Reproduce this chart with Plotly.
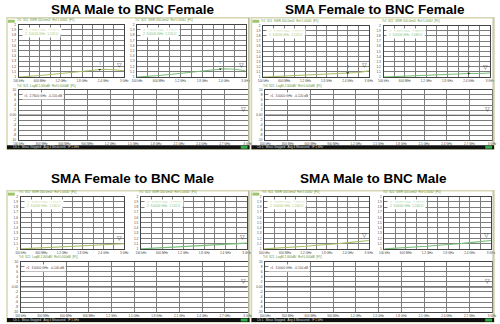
import plotly.graph_objects as go

W, H = 500, 324

# Sweep points (GHz), 100 kHz to 3 GHz
freq_ghz = [0.0001, 0.3, 0.6, 0.9, 1.2, 1.5, 1.8, 2.1, 2.4, 2.7, 3.0]

titles = ["SMA Male to BNC Female", "SMA Female to BNC Female",
          "SMA Female to BNC Male", "SMA Male to BNC Male"]

# Port-1 SWR (S11)
s11_mf = [1.00, 1.01, 1.03, 1.05, 1.07, 1.09, 1.11, 1.13, 1.15, 1.14, 1.12]
s11_ff = [1.00, 1.01, 1.02, 1.03, 1.04, 1.05, 1.06, 1.07, 1.08, 1.09, 1.12]
s11_fm = [1.00, 1.01, 1.02, 1.03, 1.04, 1.05, 1.06, 1.07, 1.08, 1.09, 1.10]
s11_mm = [1.00, 1.01, 1.02, 1.04, 1.05, 1.07, 1.08, 1.10, 1.12, 1.14, 1.16]

# Port-2 SWR (S22)
s22_mf = [1.00, 1.01, 1.03, 1.05, 1.07, 1.10, 1.12, 1.14, 1.16, 1.15, 1.12]
s22_ff = [1.00, 1.01, 1.02, 1.03, 1.04, 1.05, 1.05, 1.06, 1.07, 1.07, 1.08]
s22_fm = [1.00, 1.01, 1.02, 1.03, 1.04, 1.05, 1.06, 1.07, 1.08, 1.10, 1.11]
s22_mm = [1.00, 1.01, 1.02, 1.04, 1.05, 1.07, 1.08, 1.10, 1.12, 1.14, 1.16]

# Insertion loss (S21, dB)
s21_mf = [0.00, -0.02, -0.03, -0.05, -0.06, -0.08, -0.09, -0.10, -0.12, -0.13, -0.15]
s21_ff = [0.00, -0.01, -0.03, -0.04, -0.05, -0.06, -0.08, -0.09, -0.10, -0.11, -0.12]
s21_fm = [0.00, -0.02, -0.03, -0.04, -0.06, -0.07, -0.08, -0.10, -0.11, -0.12, -0.14]
s21_mm = [0.00, -0.02, -0.03, -0.05, -0.06, -0.08, -0.09, -0.11, -0.12, -0.14, -0.15]

# Marker 1 frequency (GHz) per adapter, None when not shown
mk1_freq = [2.3, 2.4, None, None]
# Marker frequency on the S21 trace
s21_mk_freq = [2.76, 3.0, 3.0, 3.0]

x_ticks = [0.0001, 0.3, 0.6, 0.9, 1.2, 1.5, 1.8, 2.1, 2.4, 2.7, 3.0]
x_ticktext = ["100 kHz", "300 MHz", "600 MHz", "900 MHz", "1.2 GHz",
              "1.5 GHz", "1.8 GHz", "2.1 GHz", "2.4 GHz", "2.7 GHz", "3 GHz"]
x_ticktext_small = ["100 kHz", "", "600 MHz", "", "1.2 GHz", "",
                    "1.8 GHz", "", "2.4 GHz", "", "3 GHz"]
swr_ticks = [1.0, 1.1, 1.2, 1.3, 1.4, 1.5, 1.6, 1.7, 1.8, 1.9, 2.0]
swr_ticktext = ["1", "1.1", "1.2", "1.3", "1.4", "1.5", "1.6", "1.7", "1.8", "1.9", "2"]
db_ticks = [-10, -8, -6, -4, -2, 0, 2, 4, 6, 8, 10]
db_ticktext = ["-10", "-8", "-6", "-4", "-2", "0.00", "2", "4", "6", "8", "10"]

s11_all = [s11_mf, s11_ff, s11_fm, s11_mm]
s22_all = [s22_mf, s22_ff, s22_fm, s22_mm]
s21_all = [s21_mf, s21_ff, s21_fm, s21_mm]

# Panel geometry in pixels: frame, title centre, chart boxes (x0, y0, x1, y1)
panels = [
    dict(frame=(1, 16, 249, 149), title=(130, 8),
         tl=(13, 23, 121, 76), tr=(134, 23, 245, 76), bot=(13, 89, 247, 140)),
    dict(frame=(251, 16, 499, 149), title=(377, 8),
         tl=(263, 24, 371, 76), tr=(386, 24, 495, 76), bot=(265, 89, 497, 140)),
    dict(frame=(1, 191, 249, 324), title=(130, 179),
         tl=(15, 197, 121, 250), tr=(138, 197, 246, 250), bot=(15, 263, 247, 314)),
    dict(frame=(251, 191, 499, 324), title=(376, 179),
         tl=(264, 197, 371, 250), tr=(387, 197, 496, 250), bot=(265, 263, 497, 314)),
]

S11_COLOR = "#a9bf6a"
S22_COLOR = "#78bd78"
S21_COLOR = "#6a6a6a"
GRID = "#7d7d7d"


def px(x):
    return x / W


def py(y):
    return 1 - y / H


fig = go.Figure()
layout = dict(width=W, height=H, margin=dict(l=0, r=0, t=0, b=0),
              paper_bgcolor="white", plot_bgcolor="white", showlegend=False)
shapes, annotations = [], []
axis_n = [0]


def add_chart(box, xs, ys, color, kind, small, mk_freq, header, readout):
    axis_n[0] += 1
    n = axis_n[0]
    xa = "x" if n == 1 else f"x{n}"
    ya = "y" if n == 1 else f"y{n}"
    xkey = "xaxis" if n == 1 else f"xaxis{n}"
    ykey = "yaxis" if n == 1 else f"yaxis{n}"
    x0, y0, x1, y1 = box
    layout[xkey] = dict(domain=[px(x0), px(x1)], anchor=ya, range=[0, 3.0],
                        tickvals=x_ticks,
                        ticktext=x_ticktext_small if small else x_ticktext,
                        showgrid=True, gridcolor=GRID, gridwidth=1,
                        zeroline=False, showline=True, mirror=True,
                        linecolor="#444", linewidth=1, ticks="",
                        tickfont=dict(size=3, color="#444", family="Liberation Sans"),
                        ticklabelstandoff=0, fixedrange=True)
    if kind == "swr":
        yr, tv, tt = [1.0, 2.0], swr_ticks, swr_ticktext
    else:
        yr, tv, tt = [-10, 10], db_ticks, db_ticktext
    layout[ykey] = dict(domain=[py(y1), py(y0)], anchor=xa, range=yr,
                        tickvals=tv, ticktext=tt,
                        showgrid=True, gridcolor=GRID, gridwidth=1,
                        zeroline=False, showline=True, mirror=True,
                        linecolor="#444", linewidth=1, ticks="",
                        tickfont=dict(size=3.2, color="#444", family="Liberation Sans"),
                        ticklabelstandoff=1, fixedrange=True)
    fig.add_trace(go.Scatter(x=xs, y=ys, mode="lines", xaxis=xa, yaxis=ya,
                             line=dict(color=color, width=1.1), hoverinfo="skip"))
    # stop-frequency marker glyph
    annotations.append(dict(x=xs[-1], y=ys[-1], xref=xa, yref=ya, text="▽",
                            showarrow=False, yanchor="bottom", xanchor="right",
                            font=dict(size=6, color="#333")))
    if mk_freq is not None:
        # interpolate trace value at marker frequency
        mv = ys[-1]
        for i in range(len(xs) - 1):
            if xs[i] <= mk_freq <= xs[i + 1]:
                t = (mk_freq - xs[i]) / (xs[i + 1] - xs[i])
                mv = ys[i] + t * (ys[i + 1] - ys[i])
                break
        fig.add_trace(go.Scatter(x=[mk_freq], y=[mv], mode="markers", xaxis=xa,
                                 yaxis=ya, marker=dict(size=2.5, color="#222",
                                                       symbol="triangle-down"),
                                 hoverinfo="skip"))
        annotations.append(dict(x=mk_freq, y=mv, xref=xa, yref=ya, text="1",
                                showarrow=False, yanchor="bottom", yshift=2,
                                font=dict(size=3.5, color="#222")))
    # trace header above chart
    annotations.append(dict(x=px(x0 - 4), y=py(y0 - 0.3), xref="paper", yref="paper",
                            text=header, showarrow=False, xanchor="left",
                            yanchor="bottom",
                            font=dict(size=3, color="#5e8f2e", family="Liberation Sans")))
    # marker readout in chart corner
    for k, line in enumerate(readout):
        annotations.append(dict(x=px(x0 + 3), y=py(y0 + 2 + 3.5 * k), xref="paper",
                                yref="paper", text=line, showarrow=False,
                                xanchor="left", yanchor="top",
                                bgcolor="white",
                                font=dict(size=3.2, color=color if kind == "swr" else "#444",
                                          family="Liberation Sans")))


for p, title, s11, s22, s21, mk1, mk21 in zip(panels, titles, s11_all, s22_all,
                                               s21_all, mk1_freq, s21_mk_freq):
    fx0, fy0, fx1, fy1 = p["frame"]
    shapes.append(dict(type="rect", xref="paper", yref="paper",
                       x0=px(fx0), x1=px(fx1), y0=py(fy1), y1=py(fy0),
                       line=dict(color="#d6d6b4", width=1.5), fillcolor="rgba(0,0,0,0)",
                       layer="below"))
    # right edge shading of the analyser window
    shapes.append(dict(type="line", xref="paper", yref="paper",
                       x0=px(fx1 - 1), x1=px(fx1 - 1), y0=py(fy1), y1=py(fy0),
                       line=dict(color="#b8b8a0", width=1)))
    # channel tab
    shapes.append(dict(type="rect", xref="paper", yref="paper",
                       x0=px(fx0 + 1), x1=px(fx0 + 8), y0=py(fy0 + 5), y1=py(fy0 + 2),
                       line=dict(width=0), fillcolor="#9dc46a"))
    # status bar
    shapes.append(dict(type="rect", xref="paper", yref="paper",
                       x0=px(fx0), x1=px(fx1), y0=py(fy1), y1=py(fy1 - 4),
                       line=dict(width=0), fillcolor="#111"))
    shapes.append(dict(type="rect", xref="paper", yref="paper",
                       x0=px(fx1 - 9), x1=px(fx1 - 2), y0=py(fy1 - 0.5), y1=py(fy1 - 3.5),
                       line=dict(width=0), fillcolor="#2fae4a"))
    annotations.append(dict(x=px(fx0 + 4), y=py(fy1 - 2), xref="paper", yref="paper",
                            text="Ch 1   Meas Stopped   Avg 4 Measured   IF 1 kHz",
                            showarrow=False, xanchor="left", yanchor="middle",
                            font=dict(size=3, color="#ddd", family="Liberation Sans")))
    cx, cy = p["title"]
    annotations.append(dict(x=px(cx), y=py(cy), xref="paper", yref="paper",
                            text=f"<b>{title}</b>", showarrow=False,
                            xanchor="center", yanchor="middle",
                            font=dict(size=13.5, color="black", family="Liberation Sans")))
    add_chart(p["tl"], freq_ghz, s11, S11_COLOR, "swr", True, mk1,
              "Tr1  S11  SWR 100.0mU/  Ref 1.000U  [F1]",
              [f">1  {mk1 if mk1 else 3.0:.4f} GHz  {s11[-1]:.3f} U",
               f" 2  3.0000 GHz  {s11[-1]:.3f} U"])
    add_chart(p["tr"], freq_ghz, s22, S22_COLOR, "swr", True, mk1,
              "Tr2  S22  SWR 100.0mU/  Ref 1.000U  [F1]",
              [f">1  {mk1 if mk1 else 3.0:.4f} GHz  {s22[-1]:.3f} U",
               f" 2  3.0000 GHz  {s22[-1]:.3f} U"])
    add_chart(p["bot"], freq_ghz, s21, S21_COLOR, "db", False, None,
              "Tr3  S21  LogM 2.000dB/  Ref 0.000dB  [F1]",
              [f">1  {mk21:.4f} GHz  {s21[-1]:.3f} dB"])

layout["shapes"] = shapes
layout["annotations"] = annotations
fig.update_layout(**layout)
fig.write_html("out.html")
